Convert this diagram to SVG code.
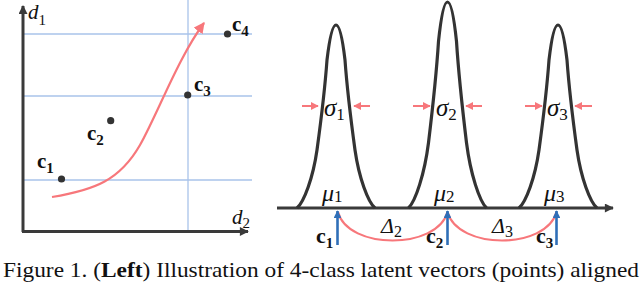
<svg xmlns="http://www.w3.org/2000/svg" width="640" height="283" viewBox="0 0 640 283">
<defs>
<style>
.grid{stroke:#a9c3ea;stroke-width:1.3;fill:none}
.axis{stroke:#3a3a3a;stroke-width:3;fill:none}
.peak{stroke:#333;stroke-width:3.2;fill:none;stroke-linejoin:round}
.red{stroke:#f7777b;stroke-width:2.2;fill:none}
.sig{stroke:#f7777b;stroke-width:2;fill:none}
.blue{stroke:#2f6fb8;stroke-width:2.6;fill:none}
.dot{fill:#333}
.math{font-family:"Liberation Serif","Times New Roman",serif;font-style:italic;fill:#111}
.sub{font-family:"Liberation Serif","Times New Roman",serif;font-style:normal;fill:#111}
.vec{font-family:"Liberation Serif","Times New Roman",serif;font-weight:bold;fill:#111}
.cap{font-family:"Liberation Serif","Times New Roman",serif;fill:#111}
</style>
<marker id="ahRed" viewBox="0 0 10 10" refX="9" refY="5" markerWidth="5" markerHeight="5" orient="auto" markerUnits="strokeWidth">
<path d="M0,0 L10,5 L0,10 z" fill="#f7777b"/>
</marker>
<marker id="ahSig" viewBox="0 0 10 10" refX="9" refY="5" markerWidth="4" markerHeight="4" orient="auto" markerUnits="strokeWidth">
<path d="M0,0 L10,5 L0,10 z" fill="#f7777b"/>
</marker>
<marker id="ahDark" viewBox="0 0 10 10" refX="9" refY="5" markerWidth="3.4" markerHeight="3" orient="auto" markerUnits="strokeWidth">
<path d="M0,0 L10,5 L0,10 z" fill="#3a3a3a"/>
</marker>
<marker id="ahBlue" viewBox="0 0 10 10" refX="9" refY="5" markerWidth="3" markerHeight="3" orient="auto" markerUnits="strokeWidth">
<path d="M0,0 L10,5 L0,10 z" fill="#2f6fb8"/>
</marker>
</defs>
<rect width="640" height="283" fill="#fff"/>

<!-- Left panel -->
<g id="left-grid">
<line class="grid" x1="24" y1="34" x2="252" y2="34"/>
<line class="grid" x1="24" y1="96" x2="252" y2="96"/>
<line class="grid" x1="24" y1="180" x2="252" y2="180"/>
<line class="grid" x1="188" y1="0" x2="188" y2="230"/>
</g>
<g id="left-axes">
<line class="axis" x1="23" y1="232" x2="23" y2="6" marker-end="url(#ahDark)"/>
<line class="axis" x1="22" y1="231.5" x2="248" y2="231.5" marker-end="url(#ahDark)"/>
<text class="math" x="28" y="19" font-size="21">d<tspan class="sub" font-size="15" dy="6">1</tspan></text>
<text class="math" x="232" y="224" font-size="21">d<tspan class="sub" font-size="15" dy="4">2</tspan></text>
</g>
<g id="left-curve">
<path class="red" d="M52,197 C95,190 120,180 140,145 C158,113 178,58 204,23" marker-end="url(#ahRed)"/>
</g>
<g id="point-c1">
<circle class="dot" cx="61.5" cy="179" r="3.6"/>
<text class="vec" x="37" y="168" font-size="21">c<tspan class="sub" font-size="15" dy="5">1</tspan></text>
</g>
<g id="point-c2">
<circle class="dot" cx="110.7" cy="120.7" r="3.6"/>
<text class="vec" x="87" y="140" font-size="21">c<tspan class="sub" font-size="15" dy="5">2</tspan></text>
</g>
<g id="point-c3">
<circle class="dot" cx="187.7" cy="95" r="3.6"/>
<text class="vec" x="194" y="91" font-size="21">c<tspan class="sub" font-size="15" dy="5">3</tspan></text>
</g>
<g id="point-c4">
<circle class="dot" cx="227.5" cy="34" r="3.6"/>
<text class="vec" x="232" y="31" font-size="21">c<tspan class="sub" font-size="15" dy="5">4</tspan></text>
</g>

<!-- Right panel -->
<g id="right-axis">
<line class="axis" x1="277" y1="208" x2="613" y2="208" marker-end="url(#ahDark)"/>
</g>
<g id="peak1">
<path class="peak" transform="translate(336,208)" d="M-39,0 C-32,-6 -23,-30 -19,-58 C-16,-80 -11,-120 -9,-148 C-7,-165 -4,-183 0,-183 C4,-183 7,-165 9,-148 C11,-120 16,-80 19,-58 C23,-30 32,-6 39,0"/>
<line class="sig" x1="302" y1="106" x2="318" y2="106" marker-end="url(#ahSig)"/>
<line class="sig" x1="370" y1="106" x2="354" y2="106" marker-end="url(#ahSig)"/>
<text class="math" x="324" y="116" font-size="25">σ<tspan class="sub" font-size="17" dy="4">1</tspan></text>
<text class="math" x="322" y="201" font-size="24">μ<tspan class="sub" font-size="17" dy="1">1</tspan></text>
</g>
<g id="peak2">
<path class="peak" transform="translate(447.5,208)" d="M-39,0 C-32,-6.8 -23,-33.8 -19,-65.3 C-16,-90.1 -11,-135.1 -9,-166.6 C-7,-185.7 -4,-206 0,-206 C4,-206 7,-185.7 9,-166.6 C11,-135.1 16,-90.1 19,-65.3 C23,-33.8 32,-6.8 39,0"/>
<line class="sig" x1="413" y1="106" x2="430" y2="106" marker-end="url(#ahSig)"/>
<line class="sig" x1="482" y1="106" x2="466" y2="106" marker-end="url(#ahSig)"/>
<text class="math" x="436" y="116" font-size="25">σ<tspan class="sub" font-size="17" dy="4">2</tspan></text>
<text class="math" x="434" y="201" font-size="24">μ<tspan class="sub" font-size="17" dy="1">2</tspan></text>
</g>
<g id="peak3">
<path class="peak" transform="translate(558,208)" d="M-39,0 C-32,-6 -23,-30 -19,-58 C-16,-80 -11,-120 -9,-148 C-7,-165 -4,-183 0,-183 C4,-183 7,-165 9,-148 C11,-120 16,-80 19,-58 C23,-30 32,-6 39,0"/>
<line class="sig" x1="525" y1="106" x2="542" y2="106" marker-end="url(#ahSig)"/>
<line class="sig" x1="592" y1="106" x2="575" y2="106" marker-end="url(#ahSig)"/>
<text class="math" x="547" y="116" font-size="25">σ<tspan class="sub" font-size="17" dy="4">3</tspan></text>
<text class="math" x="544" y="201" font-size="24">μ<tspan class="sub" font-size="17" dy="1">3</tspan></text>
</g>
<g id="connectors">
<path class="red" d="M338,212 C348,250 437,250 447.5,212"/>
<path class="red" d="M447.5,212 C458,250 546,250 556.5,212"/>
<text class="math" x="381" y="233" font-size="22" font-style="normal">Δ<tspan class="sub" font-size="16" dy="4">2</tspan></text>
<text class="math" x="492" y="233" font-size="22" font-style="normal">Δ<tspan class="sub" font-size="16" dy="4">3</tspan></text>
</g>
<g id="mark-c1">
<line class="blue" x1="337.5" y1="245" x2="337.5" y2="211" marker-end="url(#ahBlue)"/>
<text class="vec" x="316" y="243" font-size="22">c<tspan class="sub" font-size="15" dy="5">1</tspan></text>
</g>
<g id="mark-c2">
<line class="blue" x1="447.5" y1="245" x2="447.5" y2="211" marker-end="url(#ahBlue)"/>
<text class="vec" x="426" y="243" font-size="22">c<tspan class="sub" font-size="15" dy="5">2</tspan></text>
</g>
<g id="mark-c3">
<line class="blue" x1="556.5" y1="245" x2="556.5" y2="211" marker-end="url(#ahBlue)"/>
<text class="vec" x="536" y="243" font-size="22">c<tspan class="sub" font-size="15" dy="5">3</tspan></text>
</g>

<text class="cap" x="3" y="277" font-size="21" textLength="636" lengthAdjust="spacingAndGlyphs">Figure 1. (<tspan font-weight="bold">Left</tspan>) Illustration of 4-class latent vectors (points) aligned</text>
</svg>
